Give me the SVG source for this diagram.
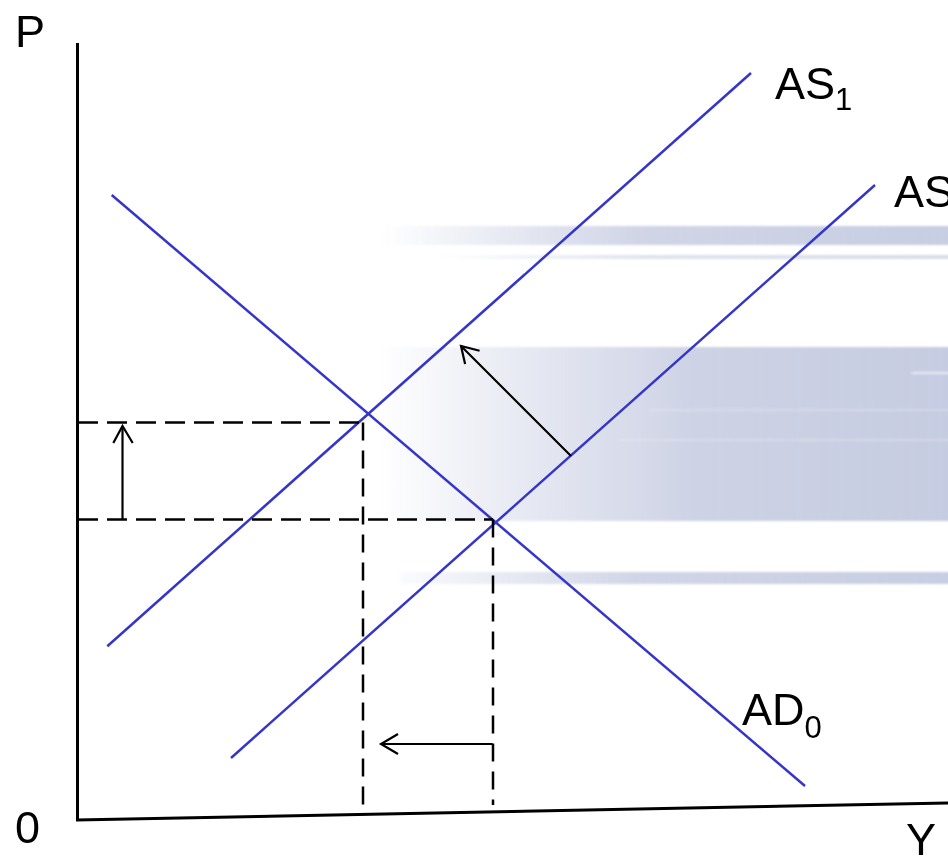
<svg xmlns="http://www.w3.org/2000/svg" width="948" height="861" viewBox="0 0 948 861">
<style>
.lbl{font-family:"Liberation Sans",Arial,sans-serif;font-size:45px;fill:#000}
.curve{stroke:#3535c8;stroke-width:2.5;fill:none}
.axis{stroke:#000;stroke-width:3;fill:none}
.dash{stroke:#000;stroke-width:2.5;stroke-dasharray:20 9;fill:none}
.vdash{stroke:#000;stroke-width:2.5;stroke-dasharray:18 10;fill:none}
.arr{stroke:#000;stroke-width:2.2;fill:none}
</style>
<defs>
<linearGradient id="gBand" x1="380" y1="0" x2="948" y2="0" gradientUnits="userSpaceOnUse">
<stop offset="0" stop-color="#c8cee2" stop-opacity="0"/>
<stop offset="0.1" stop-color="#c8cee2" stop-opacity="0.2"/>
<stop offset="0.45" stop-color="#c8cee2" stop-opacity="0.85"/>
<stop offset="1" stop-color="#c8cee2" stop-opacity="1"/>
</linearGradient>
<linearGradient id="gBig" x1="380" y1="0" x2="948" y2="0" gradientUnits="userSpaceOnUse">
<stop offset="0" stop-color="#c8cee2" stop-opacity="0"/>
<stop offset="0.2" stop-color="#c8cee2" stop-opacity="0.35"/>
<stop offset="0.55" stop-color="#c8cee2" stop-opacity="0.9"/>
<stop offset="1" stop-color="#c6cce1" stop-opacity="1"/>
</linearGradient>
<linearGradient id="gThin" x1="440" y1="0" x2="948" y2="0" gradientUnits="userSpaceOnUse">
<stop offset="0" stop-color="#d8dcea" stop-opacity="0"/>
<stop offset="0.4" stop-color="#d8dcea" stop-opacity="0.8"/>
<stop offset="1" stop-color="#d8dcea" stop-opacity="1"/>
</linearGradient>
<filter id="soft" x="-0.05" y="-0.05" width="1.1" height="1.1">
<feGaussianBlur stdDeviation="1.5 1.2"/>
</filter>
</defs>
<rect width="948" height="861" fill="#ffffff"/>
<g id="background" filter="url(#soft)">
<rect x="380" y="226" width="580" height="19" fill="url(#gBand)"/>
<rect x="440" y="255" width="520" height="4" fill="url(#gThin)"/>
<rect x="380" y="347" width="580" height="174" fill="url(#gBig)"/>
<rect x="912" y="372" width="48" height="2" fill="#ffffff" opacity="0.6"/>
<rect x="650" y="409" width="310" height="2" fill="#ffffff" opacity="0.2"/>
<rect x="620" y="439" width="340" height="2" fill="#ffffff" opacity="0.2"/>
<rect x="400" y="572" width="560" height="12" fill="url(#gBand)"/>
</g>
<g id="axes">
<line class="axis" x1="77.5" y1="43" x2="77.5" y2="821"/>
<line class="axis" x1="76" y1="820" x2="948" y2="803"/>
<text class="lbl" x="15" y="47" font-size="44">P</text>
<text class="lbl" x="15" y="843" font-size="44">0</text>
<text class="lbl" x="906" y="855" font-size="44">Y</text>
</g>
<g id="AD0">
<line class="curve" x1="111.7" y1="195" x2="805" y2="786"/>
<text class="lbl" x="742" y="725">AD<tspan font-size="31" dy="13">0</tspan></text>
</g>
<g id="AS0">
<line class="curve" x1="231" y1="758" x2="875" y2="185"/>
<text class="lbl" x="894" y="207">AS<tspan font-size="31" dy="11">0</tspan></text>
</g>
<g id="AS1">
<line class="curve" x1="107.3" y1="646.3" x2="751" y2="73"/>
<text class="lbl" x="775" y="99">AS<tspan font-size="31" dy="11">1</tspan></text>
</g>
<g id="connectors">
<line class="dash" x1="78" y1="422.5" x2="363" y2="422.5"/>
<line class="dash" x1="78" y1="519.5" x2="493" y2="519.5"/>
<line class="vdash" x1="363" y1="422.5" x2="363" y2="808"/>
<line class="vdash" x1="493" y1="519.5" x2="493" y2="805"/>
<line class="arr" x1="122.5" y1="519.5" x2="122.5" y2="426"/>
<polyline class="arr" points="113.3,443 122.5,426 132.7,443"/>
<line class="arr" x1="492.5" y1="744" x2="381" y2="744"/>
<polyline class="arr" points="398,734 381,744 398,754"/>
<line class="arr" x1="571" y1="456" x2="461" y2="346"/>
<polyline class="arr" points="479.6,350.7 461,346 465.1,364"/>
</g>
</svg>
